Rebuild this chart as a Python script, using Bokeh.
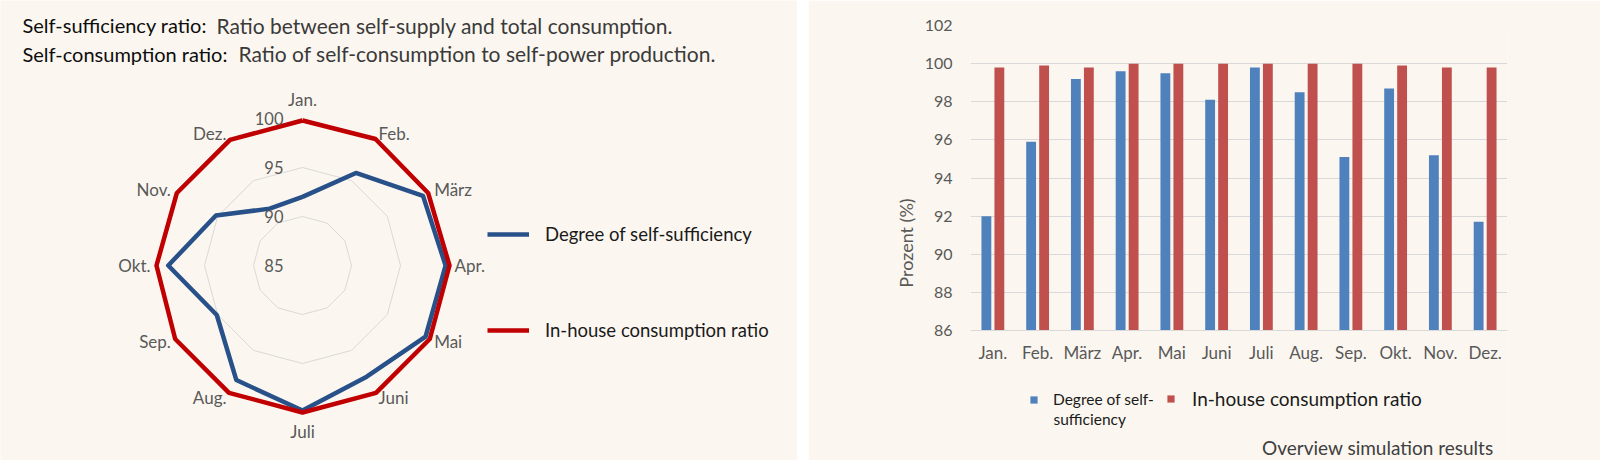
import numpy as np
from bokeh.plotting import figure
from bokeh.layouts import row
from bokeh.models import (Range1d, FactorRange, Label, Legend, LegendItem,
                          FixedTicker, ColumnDataSource)
from bokeh.transform import dodge
from bokeh.core.properties import value
from bokeh.embed import file_html
from bokeh.resources import INLINE

# ---------------- data ----------------
months = ["Jan.", "Feb.", "März", "Apr.", "Mai", "Juni",
          "Juli", "Aug.", "Sep.", "Okt.", "Nov.", "Dez."]
self_sufficiency = [92.0, 95.9, 99.2, 99.6, 99.5, 98.1,
                    99.8, 98.5, 95.1, 98.7, 95.2, 91.7]
in_house = [99.8, 99.9, 99.8, 100.0, 100.0, 100.0,
            100.0, 100.0, 100.0, 99.9, 99.8, 99.8]
series_names = ["Degree of self-sufficiency", "In-house consumption ratio"]
bar_legend_lines = ["Degree of self-", "sufficiency"]
radar_rings = [90, 95, 100]
radar_ticks = [85, 90, 95, 100]
bar_yticks = [86, 88, 90, 92, 94, 96, 98, 100, 102]
title_heads = ["Self-sufficiency ratio:", "Self-consumption ratio:"]
title_tails = ["Ratio between self-supply and total consumption.",
               "Ratio of self-consumption to self-power production."]
footer = "Overview simulation results"

# ---------------- style ----------------
BG = "#fbf7f0"
FONT = "Lato"
GRAY = "#595959"
GRID = "#d9d9d9"
RADAR_BLUE = "#28518a"
RADAR_RED = "#c00000"
BAR_BLUE = "#4f81bd"
BAR_RED = "#c0504d"

H = 460
W1 = 797


def no_align(fig):
    if "frame_align" in fig.properties():
        fig.frame_align = False


# ---------------- left panel: radar ----------------
left = figure(frame_width=W1, frame_height=H, x_range=Range1d(0, W1),
              y_range=Range1d(0, H), x_axis_type=None, y_axis_type=None,
              toolbar_location=None, output_backend="svg", min_border=0,
              background_fill_color=BG, border_fill_color=BG,
              outline_line_color=None)
no_align(left)

cx, cy = 302.0, 195.0
scale = 9.8
rmin = 85.0
n = len(months)
ang = np.arange(n) * 2 * np.pi / n


def polar(vals, closed=True):
    r = (np.asarray(vals, dtype=float) - rmin) * scale
    x = cx + r * np.sin(ang)
    y = cy + r * np.cos(ang)
    if closed:
        x = np.append(x, x[0])
        y = np.append(y, y[0])
    return x, y


for v in radar_rings:
    gx, gy = polar([v] * n)
    left.line(gx, gy, line_color=GRID, line_width=1)

bx, by = polar(self_sufficiency)
rx, ry = polar(in_house)
blue_r = left.line(bx, by, line_color=RADAR_BLUE, line_width=4.5, line_join="round")
red_r = left.line(rx, ry, line_color=RADAR_RED, line_width=4.5, line_join="round")

# ring value labels
left.text(x=[cx - 19] * len(radar_ticks),
          y=[cy + (t - rmin) * scale for t in radar_ticks],
          text=[str(t) for t in radar_ticks], text_align="right",
          text_baseline="middle", text_font=value(FONT),
          text_font_size="16.5px", text_color=GRAY)

# month labels
groups = {"left": ([], [], []), "right": ([], [], []), "center": ([], [], [])}
for i, m in enumerate(months):
    s, c = np.sin(ang[i]), np.cos(ang[i])
    if abs(s) < 0.1:
        rr, key = 166.0, "center"
    else:
        rr, key = 152.0, ("left" if s > 0 else "right")
    groups[key][0].append(cx + rr * s)
    groups[key][1].append(cy + rr * c)
    groups[key][2].append(m)
for key, (gx, gy, gt) in groups.items():
    left.text(x=gx, y=gy, text=gt, text_align=key, text_baseline="middle",
              text_font=value(FONT), text_font_size="17px", text_color=GRAY)

leg = Legend(items=[LegendItem(label=series_names[0], renderers=[blue_r]),
                    LegendItem(label=series_names[1], renderers=[red_r])],
             location=(487, 119), orientation="vertical", spacing=74,
             glyph_width=42, glyph_height=20, label_standoff=16,
             label_text_font=FONT, label_text_font_size="18.5px",
             label_text_color="#1a1a1a", background_fill_alpha=0,
             border_line_color=None, padding=0, margin=0)
left.add_layout(leg)

head_x = 22
tail_x = [216, 238]
line_y = [435.5, 407]
for i in range(2):
    left.add_layout(Label(x=head_x, y=line_y[i], text=title_heads[i],
                          text_font=FONT, text_font_size="20px",
                          text_color="#0d0d0d", text_baseline="middle"))
    left.add_layout(Label(x=tail_x[i], y=line_y[i], text=title_tails[i],
                          text_font=FONT, text_font_size="21px",
                          text_color="#3a3a3a", text_baseline="middle"))

# ---------------- right panel: bars ----------------
PLOT_TOP, PLOT_BOTTOM = 25, 330        # pixel rows of 102 and 86
px_per_unit = (PLOT_BOTTOM - PLOT_TOP) / (bar_yticks[-1] - bar_yticks[0])
y_floor = bar_yticks[0] - (H - PLOT_BOTTOM) / px_per_unit

src = ColumnDataSource(dict(month=months, a=self_sufficiency, b=in_house))
right = figure(frame_width=537, frame_height=H - PLOT_TOP,
               x_range=FactorRange(*months, range_padding=0),
               y_range=Range1d(y_floor, bar_yticks[-1]), toolbar_location=None,
               output_backend="svg", min_border_left=162, min_border_right=93,
               min_border_top=PLOT_TOP, min_border_bottom=0,
               background_fill_color=BG, border_fill_color=BG,
               outline_line_color=None)
no_align(right)

ra = right.vbar(x=dodge("month", -0.145, range=right.x_range), top="a",
                bottom=bar_yticks[0], width=0.22, source=src,
                fill_color=BAR_BLUE, line_color=None)
rb = right.vbar(x=dodge("month", 0.145, range=right.x_range), top="b",
                bottom=bar_yticks[0], width=0.22, source=src,
                fill_color=BAR_RED, line_color=None)

right.xgrid.visible = False
right.ygrid.grid_line_color = GRID
right.yaxis.ticker = FixedTicker(ticks=bar_yticks)
right.yaxis.bounds = (bar_yticks[0], bar_yticks[-1])
right.xaxis.fixed_location = bar_yticks[0]
for ax in (right.xaxis[0], right.yaxis[0]):
    ax.major_tick_line_color = None
    ax.minor_tick_line_color = None
    ax.major_tick_out = 0
    ax.major_tick_in = 0
    ax.major_label_text_font = FONT
    ax.major_label_text_font_size = "16px"
    ax.major_label_text_color = GRAY
right.xaxis.major_label_text_font_size = "17px"
right.yaxis.axis_line_color = None
right.xaxis.axis_line_color = GRID
right.yaxis.major_label_standoff = 18
right.xaxis.major_label_standoff = 11
right.yaxis.axis_label = "Prozent (%)"
right.yaxis.axis_label_text_font = FONT
right.yaxis.axis_label_text_font_style = "normal"
right.yaxis.axis_label_text_font_size = "18px"
right.yaxis.axis_label_text_color = GRAY
right.yaxis.axis_label_standoff = 5

leg_a = Legend(items=[LegendItem(label=bar_legend_lines[0], renderers=[ra])],
               location=(59, 52), glyph_width=9, glyph_height=9,
               label_standoff=15, label_text_font=FONT,
               label_text_font_size="15.5px", label_text_color="#1a1a1a",
               background_fill_alpha=0, border_line_color=None,
               padding=0, margin=0)
leg_b = Legend(items=[LegendItem(label=series_names[1], renderers=[rb])],
               location=(196, 50.5), glyph_width=9, glyph_height=9,
               label_standoff=17, label_text_font=FONT,
               label_text_font_size="19px", label_text_color="#1a1a1a",
               background_fill_alpha=0, border_line_color=None,
               padding=0, margin=0)
right.add_layout(leg_a)
right.add_layout(leg_b)
right.add_layout(Label(x=83, y=42, x_units="screen", y_units="screen",
                       text=bar_legend_lines[1], text_align="left",
                       text_baseline="middle", text_font=FONT,
                       text_font_size="15.5px", text_color="#1a1a1a"))

right.add_layout(Label(x=523, y=13, x_units="screen", y_units="screen",
                       text=footer, text_align="right", text_baseline="middle",
                       text_font=FONT, text_font_size="19px",
                       text_color="#404040"))

layout = row(left, right, spacing=11)
open("out.html", "w").write(file_html(layout, INLINE))
